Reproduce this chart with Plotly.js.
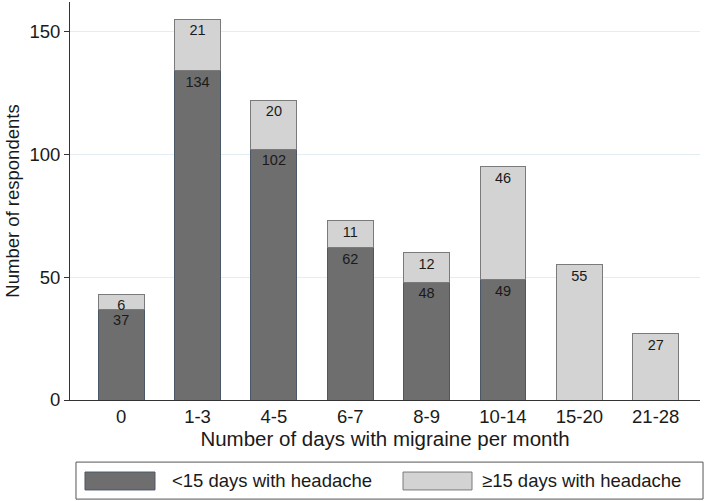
<!DOCTYPE html>
<html><head><meta charset="utf-8">
<script src="https://cdn.plot.ly/plotly-3.0.1.min.js"></script>
<style>body{margin:0;background:#fff}#chart{width:709px;height:501px}</style>
</head><body><div id="chart"></div>
<script>
const categories = ['0','1-3','4-5','6-7','8-9','10-14','15-20','21-28'];
const below15 = [37,134,102,62,48,49,0,0];
const above15 = [6,21,20,11,12,46,55,27];
const seriesNames = ['<15 days with headache','\u226515 days with headache'];
const yTicks = [0,50,100,150];

const font = "Liberation Sans, Arial, sans-serif";
const lbl = a => a.map(v => v > 0 ? String(v) : '');

const traces = [
  {type:'bar', x:categories, y:below15, name:seriesNames[0], text:lbl(below15),
   textposition:'inside', insidetextanchor:'end', textangle:0, textfont:{color:'#1a1a1a', size:14.5, family:font},
   marker:{color:'#6e6e6e', line:{color:'#4a5868', width:1}}, width:0.6, showlegend:false, hoverinfo:'x+y'},
  {type:'bar', x:categories, y:above15, name:seriesNames[1], text:lbl(above15),
   textposition:'inside', insidetextanchor:'end', textangle:0, textfont:{color:'#1a1a1a', size:14.5, family:font},
   marker:{color:'#d3d3d3', line:{color:'#7a7a7a', width:1}}, width:0.6, showlegend:false, hoverinfo:'x+y'}
];

const legY0 = -0.181, legY1 = -0.226, legYc = -0.2035;
const layout = {
  width:709, height:501, barmode:'stack',
  margin:{l:70, r:9, t:2, b:101},
  paper_bgcolor:'#fff', plot_bgcolor:'#fff',
  font:{family:font, color:'#1a1a1a'},
  uniformtext:{mode:'show', minsize:14.5},
  xaxis:{range:[-0.67,7.58], showline:true, linecolor:'#333', linewidth:1, ticks:'',
    tickfont:{size:18.5}, title:{text:'Number of days with migraine per month', font:{size:20.5}, standoff:3}},
  yaxis:{range:[0,162], tickvals:yTicks, ticks:'outside', ticklen:5, tickcolor:'#333',
    showline:true, linecolor:'#333', linewidth:1, showgrid:true, gridcolor:'#e4eef2', zeroline:false,
    tickfont:{size:18.5}, title:{text:'Number of respondents', font:{size:18.5}, standoff:4}},
  shapes:[
    {type:'rect', xref:'paper', yref:'paper', x0:0.0095, x1:1.0048, y0:-0.156, y1:-0.249, line:{color:'#555', width:1}, fillcolor:'rgba(0,0,0,0)'},
    {type:'rect', xref:'paper', yref:'paper', x0:0.0238, x1:0.1349, y0:legY0, y1:legY1, line:{color:'#4a5868', width:1}, fillcolor:'#6e6e6e'},
    {type:'rect', xref:'paper', yref:'paper', x0:0.5286, x1:0.6381, y0:legY0, y1:legY1, line:{color:'#7a7a7a', width:1}, fillcolor:'#d3d3d3'}
  ],
  annotations:[
    {xref:'paper', yref:'paper', x:0.1587, y:legYc, xanchor:'left', yanchor:'middle', showarrow:false, text:seriesNames[0], font:{size:18.5}},
    {xref:'paper', yref:'paper', x:0.6508, y:legYc, xanchor:'left', yanchor:'middle', showarrow:false, text:seriesNames[1], font:{size:18.5}}
  ]
};
Plotly.newPlot('chart', traces, layout, {displayModeBar:false, staticPlot:true});
</script></body></html>
